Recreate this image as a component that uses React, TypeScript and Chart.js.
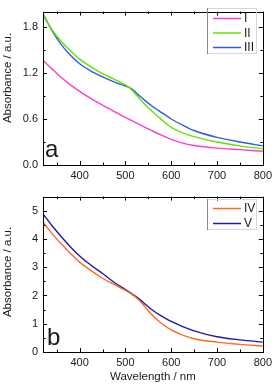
import React, { useEffect, useRef } from 'react';
import { Chart, registerables } from 'chart.js';

Chart.register(...registerables);

// ---------- data ----------
const wavelengthsTop = [320, 340, 360, 380, 400, 425, 450, 475, 490, 500, 510, 520, 530, 545, 560, 580, 600, 625, 650, 700, 750, 800];
const seriesI = [1.365, 1.25, 1.14, 1.045, 0.96, 0.865, 0.78, 0.7, 0.65, 0.62, 0.59, 0.56, 0.53, 0.485, 0.44, 0.385, 0.335, 0.285, 0.255, 0.22, 0.2, 0.18];
const seriesII = [1.95, 1.76, 1.61, 1.49, 1.38, 1.28, 1.19, 1.12, 1.075, 1.045, 1.0, 0.94, 0.87, 0.775, 0.69, 0.585, 0.49, 0.42, 0.37, 0.3, 0.25, 0.21];
const seriesIII = [1.97, 1.75, 1.57, 1.43, 1.32, 1.225, 1.15, 1.085, 1.05, 1.03, 1.005, 0.96, 0.905, 0.83, 0.76, 0.68, 0.6, 0.52, 0.45, 0.36, 0.3, 0.25];

const wavelengthsBottom = [320, 340, 360, 380, 400, 425, 450, 475, 500, 515, 530, 545, 560, 580, 600, 625, 650, 700, 750, 800];
const seriesIV = [4.59, 4.19, 3.82, 3.49, 3.18, 2.88, 2.61, 2.39, 2.18, 2.03, 1.83, 1.56, 1.28, 1.0, 0.78, 0.6, 0.47, 0.35, 0.27, 0.21];
const seriesV = [4.89, 4.47, 4.08, 3.72, 3.4, 3.07, 2.78, 2.47, 2.21, 2.05, 1.88, 1.67, 1.47, 1.26, 1.08, 0.9, 0.75, 0.54, 0.43, 0.35];

const xTicks = [400, 500, 600, 700, 800];
const xMinorTicks = [350, 450, 550, 650, 750];
const topYTicks = [0, 0.6, 1.2, 1.8];
const topYMinor = [0.3, 0.9, 1.5];
const bottomYTicks = [0, 1, 2, 3, 4, 5];
const bottomYMinor = [0.5, 1.5, 2.5, 3.5, 4.5];

const namesTop = ['I', 'II', 'III'];
const namesBottom = ['IV', 'V'];
const colorsTop = ['#ff3fc8', '#66e000', '#2f5fd8'];
const colorsBottom = ['#ff6a20', '#1c1ca8'];

const FONT = "'Liberation Sans', Arial, sans-serif";
const TEXT = '#1a1a1a';

type PanelOpts = {
  letter: string;
  letterX: number;
  letterY: number;
  legend: { names: string[]; colors: string[]; box: [number, number, number, number]; ys: number[] };
  yMinor: number[];
  yTitleCenter: number;
};

function makePlugin(p: PanelOpts) {
  return {
    id: 'panelDecor' + p.letter,
    afterDraw(chart: any) {
      const ctx = chart.ctx as CanvasRenderingContext2D;
      const { left, right, top, bottom } = chart.chartArea;
      const xs = chart.scales.x;
      const ys = chart.scales.y;
      ctx.save();
      // frame
      ctx.strokeStyle = '#000';
      ctx.lineWidth = 1;
      ctx.strokeRect(Math.round(left) + 0.5, Math.round(top) + 0.5, Math.round(right - left), Math.round(bottom - top));
      const major = 4;
      const minor = 2.5;
      ctx.beginPath();
      const xt = (v: number, len: number) => {
        const px = Math.round(xs.getPixelForValue(v)) + 0.5;
        ctx.moveTo(px, bottom);
        ctx.lineTo(px, bottom - len);
        ctx.moveTo(px, top);
        ctx.lineTo(px, top + len);
      };
      const yt = (v: number, len: number) => {
        const py = Math.round(ys.getPixelForValue(v)) + 0.5;
        ctx.moveTo(left, py);
        ctx.lineTo(left + len, py);
        ctx.moveTo(right, py);
        ctx.lineTo(right - len, py);
      };
      xTicks.forEach((v) => xt(v, major));
      xMinorTicks.forEach((v) => xt(v, minor));
      ys.ticks.forEach((t: any) => yt(t.value, major));
      p.yMinor.forEach((v) => yt(v, minor));
      ctx.stroke();

      // panel letter
      ctx.fillStyle = TEXT;
      ctx.font = `24px ${FONT}`;
      ctx.textAlign = 'left';
      ctx.textBaseline = 'alphabetic';
      ctx.fillText(p.letter, p.letterX, p.letterY);

      // legend
      const [bx, by, bw, bh] = p.legend.box;
      ctx.strokeStyle = '#d8d8d8';
      ctx.lineWidth = 1;
      ctx.strokeRect(bx + 0.5, by + 0.5, bw, bh);
      ctx.strokeStyle = '#888';
      ctx.beginPath();
      ctx.moveTo(bx + 0.5, by);
      ctx.lineTo(bx + 0.5, by + bh + 1);
      ctx.stroke();
      ctx.font = `12px ${FONT}`;
      ctx.textBaseline = 'middle';
      p.legend.names.forEach((n, i) => {
        const y = p.legend.ys[i];
        ctx.strokeStyle = p.legend.colors[i];
        ctx.lineWidth = 1.5;
        ctx.beginPath();
        ctx.moveTo(bx + 6, y);
        ctx.lineTo(bx + 34, y);
        ctx.stroke();
        ctx.fillStyle = TEXT;
        ctx.fillText(n, bx + 37, y + 0.5);
      });

      // y title
      ctx.save();
      ctx.translate(8, p.yTitleCenter);
      ctx.rotate(-Math.PI / 2);
      ctx.textAlign = 'center';
      ctx.textBaseline = 'middle';
      ctx.font = `11.5px ${FONT}`;
      ctx.fillStyle = TEXT;
      ctx.fillText('Absorbance / a.u.', 0, 0);
      ctx.restore();

      ctx.restore();
    },
  };
}

function buildChart(
  canvas: HTMLCanvasElement,
  labels: number[],
  series: number[][],
  colors: string[],
  names: string[],
  yMax: number,
  yTicks: number[],
  fmt: (v: number) => string,
  showXTitle: boolean,
  xHeight: number,
  padTop: number,
  plugin: any
) {
  return new Chart(canvas, {
    type: 'line',
    data: {
      datasets: series.map((s, i) => ({
        label: names[i],
        data: s.map((v, j) => ({ x: labels[j], y: v })),
        borderColor: colors[i],
        backgroundColor: colors[i],
        borderWidth: 1.4,
        pointRadius: 0,
        cubicInterpolationMode: 'monotone' as const,
        fill: false,
      })),
    },
    options: {
      responsive: false,
      animation: false,
      layout: { padding: { top: padTop, right: 12, left: 0, bottom: 0 } },
      plugins: { legend: { display: false }, tooltip: { enabled: false } },
      scales: {
        x: {
          type: 'linear',
          min: 320,
          max: 800,
          afterBuildTicks: (s: any) => {
            s.ticks = xTicks.map((v) => ({ value: v }));
          },
          afterFit: (s: any) => {
            s.height = xHeight;
          },
          ticks: { font: { family: FONT, size: 11 }, color: TEXT, padding: 4, maxRotation: 0, autoSkip: false },
          grid: { display: false, drawTicks: false },
          border: { display: false },
          title: {
            display: showXTitle,
            text: 'Wavelength / nm',
            font: { family: FONT, size: 11.5 },
            color: TEXT,
            padding: { top: 0, bottom: 5 },
          },
        },
        y: {
          type: 'linear',
          min: 0,
          max: yMax,
          afterBuildTicks: (s: any) => {
            s.ticks = yTicks.map((v) => ({ value: v }));
          },
          afterFit: (s: any) => {
            s.width = 43;
          },
          ticks: {
            font: { family: FONT, size: 11 },
            color: TEXT,
            padding: 5,
            autoSkip: false,
            callback: (v: any) => fmt(Number(v)),
          },
          grid: { display: false, drawTicks: false },
          border: { display: false },
        },
      },
    },
    plugins: [plugin],
  } as any);
}

export default function App() {
  const topRef = useRef<HTMLCanvasElement>(null);
  const botRef = useRef<HTMLCanvasElement>(null);

  useEffect(() => {
    const topPlugin = makePlugin({
      letter: 'a',
      letterX: 45,
      letterY: 157,
      legend: { names: namesTop, colors: colorsTop, box: [207, 8, 49, 45], ys: [18.5, 33, 47.5] },
      yMinor: topYMinor,
      yTitleCenter: 78,
    });
    const botPlugin = makePlugin({
      letter: 'b',
      letterX: 47,
      letterY: 160,
      legend: { names: namesBottom, colors: colorsBottom, box: [207, 14, 49, 30], ys: [23.5, 38.5] },
      yMinor: bottomYMinor,
      yTitleCenter: 87,
    });
    const c1 = buildChart(
      topRef.current!,
      wavelengthsTop,
      [seriesI, seriesII, seriesIII],
      colorsTop,
      namesTop,
      2.0,
      topYTicks,
      (v) => v.toFixed(1),
      false,
      20,
      3,
      topPlugin
    );
    const c2 = buildChart(
      botRef.current!,
      wavelengthsBottom,
      [seriesIV, seriesV],
      colorsBottom,
      namesBottom,
      5.5,
      bottomYTicks,
      (v) => String(v),
      true,
      37,
      4,
      botPlugin
    );
    return () => {
      c1.destroy();
      c2.destroy();
    };
  }, []);

  return (
    <div style={{ position: 'absolute', left: 0, top: 0, width: 276, height: 389, background: '#fff' }}>
      <canvas ref={topRef} width={276} height={185} style={{ position: 'absolute', left: 0, top: 0, width: 276, height: 185 }} />
      <canvas ref={botRef} width={276} height={204} style={{ position: 'absolute', left: 0, top: 185, width: 276, height: 204 }} />
    </div>
  );
}
